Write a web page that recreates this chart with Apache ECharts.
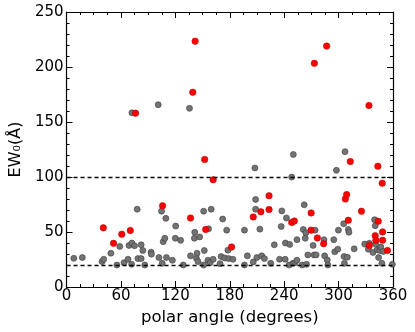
<!DOCTYPE html>
<html>
<head>
<meta charset="utf-8">
<script src="https://cdn.jsdelivr.net/npm/echarts@6/dist/echarts.min.js"></script>
<style>
  html, body { margin: 0; padding: 0; background: #fff; }
  #chart { width: 415px; height: 332px; }
</style>
</head>
<body>
<div id="chart"></div>
<script>
// grey points (polar angle in degrees, EW0 in Angstrom)
var greyAngle = [8, 17.4, 39.2, 41, 48.9, 55.5, 58.7, 63.4, 67.8, 68.9, 71.8, 72.1, 72.1, 75, 77.9, 78.7, 82.3, 82.3, 84.1, 86.3,
  93.2, 93.6, 101.1, 101.9, 104.8, 105.5, 106.6, 108.4, 109.5, 110.2, 116.7, 120.4, 120, 125.8, 128.7, 135.6, 136.7, 141, 141.4, 143.2,
  143.9, 145, 146.8, 151.2, 151.2, 151.9, 155.9, 156.6, 158.4, 159.5, 161.7, 169.3, 170.4, 172.2, 174.4, 176.6, 178, 178.7, 183.5, 196.2,
  196.2, 199.4, 205.9, 207.7, 208.5, 208.5, 209.9, 213.2, 215.3, 218.2, 225.1, 229.1, 234.9, 236.7, 237.4, 241.1, 241.4, 242.5, 245.4, 246.1,
  248.3, 249.7, 250.1, 251.9, 254.1, 254.1, 259.9, 261, 262.1, 263.2, 263.9, 264.6, 266.1, 271.9, 273, 274.1, 275.2, 283.9, 284.6, 287.5,
  288.2, 294.7, 295.8, 297.6, 299.1, 299.8, 305.6, 306, 306.4, 307.1, 309.6, 310.7, 311.4, 317.2, 328.8, 332.8, 333.9, 337.9, 339.7, 340.4,
  340.8, 342.6, 344.1, 345.5, 346.6, 347.7, 349.2, 359.3];
var greyEW = [26.1, 26.8, 23.1, 25.2, 30.7, 20, 36.9, 22.1, 25.2, 37.8, 20.6, 40, 158.4, 37.5, 70.7, 25.8, 38.4, 25.8, 33.2, 20,
  31.7, 29.8, 165.7, 26.8, 68.9, 21.5, 41.2, 44.3, 62.4, 26.8, 24.3, 55.4, 44.3, 42.4, 20, 162.4, 28.3, 44.3, 49.8, 26.1,
  30.7, 23.1, 45.5, 68.9, 20, 33.2, 24.3, 52.9, 22.1, 70.7, 25.2, 21.2, 27.7, 61.8, 26.4, 51.7, 33.5, 25.8, 25.2, 51.7,
  20, 28.3, 22.8, 108.2, 79.6, 70.7, 26.8, 52.6, 28.3, 25.8, 21.5, 38.4, 25.2, 55, 69.2, 25.2, 40, 62.7, 20, 38.7,
  99.9, 21.5, 120.5, 22.1, 43, 24.3, 20, 52.3, 74.7, 44.3, 49.2, 20.6, 29.2, 37.8, 29.2, 51.7, 29.2, 43, 28.3, 24.6,
  20, 43, 32, 106.1, 34.4, 51.7, 57.5, 27.7, 21.5, 123, 27.1, 52.3, 49.8, 34.7, 39, 34.4, 39.7, 31.4, 61.2, 55.7,
  39, 33.8, 26.8, 33.2, 36.3, 21.5, 32.3, 20.6];

// red points
var redAngle = [40.6, 51.8, 60.9, 70.3, 76.1, 105.9, 136.7, 139.2, 141.8, 152.3, 153.4, 161.7, 182, 205.9, 214.3, 223.3, 223.3, 248.3, 251.2, 269.7,
  269.7, 273.3, 276.6, 283.5, 286.8, 307.4, 308.9, 310.7, 312.9, 325.2, 333.5, 333.9, 340.4, 341.1, 343.3, 343.7, 348.1, 348.5, 348.5, 353.9];
var redEW = [53.8, 39.7, 48, 51.4, 158, 73.8, 62.7, 177, 223.5, 116, 52.3, 97.5, 36.3, 63.7, 68.3, 83, 70.4, 58.7, 60, 67.3,
  51.7, 203.3, 44.6, 39.4, 219, 80, 84, 60.6, 114, 68.9, 165, 37.8, 46.7, 42.4, 109.8, 59.7, 94.4, 50.1, 42.4, 33.2];

// threshold lines
var refLines = [100, 20];

function pairs(xs, ys) {
  var out = [];
  for (var i = 0; i < xs.length; i++) out.push([xs[i], ys[i]]);
  return out;
}

var font = 'DejaVu Sans';
var chart = echarts.init(document.getElementById('chart'));

var axisCommon = {
  axisLine: { show: true, onZero: false, lineStyle: { color: '#000', width: 1.2 } },
  axisTick: { show: true, inside: true, length: 6, lineStyle: { color: '#000', width: 1 } },
  splitLine: { show: false }
};

chart.setOption({
  backgroundColor: '#fff',
  animation: false,
  grid: { left: 62, right: 22, top: 12, bottom: 45 },
  xAxis: [
    Object.assign({
      type: 'value', min: 0, max: 360, interval: 60, position: 'bottom',
      minorTick: { show: true, splitNumber: 4, length: 3, lineStyle: { color: '#000' } },
      axisLabel: { color: '#000', fontFamily: font, fontSize: 15, margin: 2 },
      name: 'polar angle (degrees)', nameLocation: 'middle', nameGap: 19,
      nameTextStyle: { color: '#000', fontFamily: font, fontSize: 16.5 }
    }, axisCommon),
    Object.assign({
      type: 'value', min: 0, max: 360, interval: 60, position: 'top',
      minorTick: { show: true, splitNumber: 4, length: 3, lineStyle: { color: '#000' } },
      axisLabel: { show: false }
    }, axisCommon)
  ],
  yAxis: [
    Object.assign({
      type: 'value', min: 0, max: 250, interval: 50, position: 'left',
      minorTick: { show: true, splitNumber: 5, length: 3, lineStyle: { color: '#000' } },
      axisLabel: { color: '#000', fontFamily: font, fontSize: 15, margin: 3 },
      name: 'EW₀(Å)', nameLocation: 'middle', nameGap: 33,
      nameTextStyle: { color: '#000', fontFamily: font, fontSize: 16 }
    }, axisCommon),
    Object.assign({
      type: 'value', min: 0, max: 250, interval: 50, position: 'right',
      minorTick: { show: true, splitNumber: 5, length: 3, lineStyle: { color: '#000' } },
      axisLabel: { show: false }
    }, axisCommon)
  ],
  series: [
    {
      type: 'scatter',
      data: pairs(greyAngle, greyEW),
      symbolSize: 6,
      itemStyle: { color: '#737373', borderColor: '#3a3a3a', borderWidth: 0.6, opacity: 1 },
      markLine: {
        silent: true,
        symbol: 'none',
        label: { show: false },
        lineStyle: { color: '#000', type: [4, 3], width: 1.3 },
        data: refLines.map(function (v) { return { yAxis: v }; })
      },
      z: 2
    },
    {
      type: 'scatter',
      data: pairs(redAngle, redEW),
      symbolSize: 6.5,
      itemStyle: { color: '#ff0000', borderColor: '#b00000', borderWidth: 0.5, opacity: 1 },
      z: 3
    }
  ]
});
</script>
</body>
</html>
